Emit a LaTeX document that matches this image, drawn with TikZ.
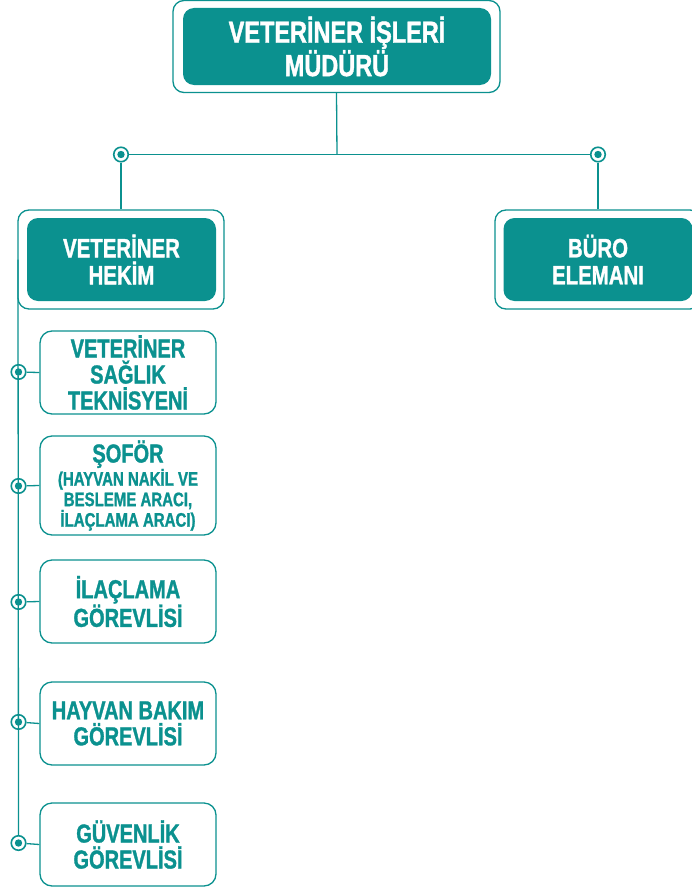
\documentclass[tikz,border=0pt]{standalone}
\usepackage{fontspec}
\setmainfont{Liberation Sans}
\newfontfamily\condfont[UprightFont=*-Bold, FakeStretch=0.77, FakeBold=1.2]{Liberation Sans}
\usetikzlibrary{positioning}
\definecolor{vetteal}{HTML}{0B918F}

\begin{document}
\begin{tikzpicture}[x=1pt, y=-1pt,
  outerbox/.style={draw=vetteal, line width=1.3pt, rounded corners=11pt, minimum width=206pt, minimum height=99pt},
  innerbox/.style={fill=vetteal, rounded corners=11pt, text=white, align=center, font=\condfont\fontsize{26.5}{27}\selectfont, minimum width=189pt, minimum height=83pt},
  subbox/.style={draw=vetteal, line width=1.3pt, rounded corners=12pt, text=vetteal, align=center, font=\condfont\fontsize{26}{26}\selectfont, minimum width=176pt, minimum height=83pt},
  link/.style={draw=vetteal, line width=1.3pt},
  dot/.style={circle, draw=vetteal, fill=white, line width=1.6pt, minimum size=14.5pt, inner sep=0pt,
    path picture={\fill[vetteal] (path picture bounding box.center) circle (3.7pt);}}]
  \useasboundingbox (0,0) rectangle (692,891);

  % top
  \node[outerbox, minimum width=327pt, minimum height=92pt] (dirout) at (336.5,46.5) {};
  \node[innerbox, minimum width=308pt, minimum height=77pt, font=\condfont\fontsize{30.5}{30}\selectfont] (dir) at (337,46.5) {VETERİNER İŞLERİ\\MÜDÜRÜ};

  % second level
  \node[outerbox] (hekout) at (121,259.5) {};
  \node[innerbox] (hek) at (121.5,259.5) {VETERİNER\\HEKİM};
  \node[outerbox] (buroout) at (598,259.5) {};
  \node[innerbox] (buro) at (598,259.5) {BÜRO\\ELEMANI};

  \node[dot] (dl) at (121,154.5) {};
  \node[dot] (dr) at (598,154.5) {};
  \coordinate (bus) at (337,154.5);

  \draw[link] (dirout.south) -- (bus);
  \draw[link] (dl) -- (dr);
  \draw[link] (dl) -- (hekout.north);
  \draw[link] (dr) -- (buroout.north);

  % staff under the veterinarian
  \node[subbox] (vst) at (128,372.5) {VETERİNER\\SAĞLIK\\TEKNİSYENİ};
  \node[subbox, minimum height=99pt, font=\condfont\fontsize{19.5}{20.5}\selectfont] (sof) at (128,485.5)
    {{\fontsize{26}{21}\selectfont ŞOFÖR}\\(HAYVAN NAKİL VE\\BESLEME ARACI,\\İLAÇLAMA ARACI)};
  \node[subbox] (ilac) at (128,601.5) {İLAÇLAMA\\GÖREVLİSİ};
  \node[subbox] (bakim) at (128,723.5) {HAYVAN BAKIM\\GÖREVLİSİ};
  \node[subbox] (guv) at (128,844.5) {GÜVENLİK\\GÖREVLİSİ};

  \coordinate (spine) at (18,259.5);
  \foreach \nm/\yy in {vst/372, sof/486, ilac/602, bakim/722, guv/843} {
    \node[dot] (d\nm) at (18.5,\yy) {};
    \draw[link] (d\nm) -- (\nm.west);
  }
  \draw[link] (spine) -- (dguv);
\end{tikzpicture}
\end{document}
